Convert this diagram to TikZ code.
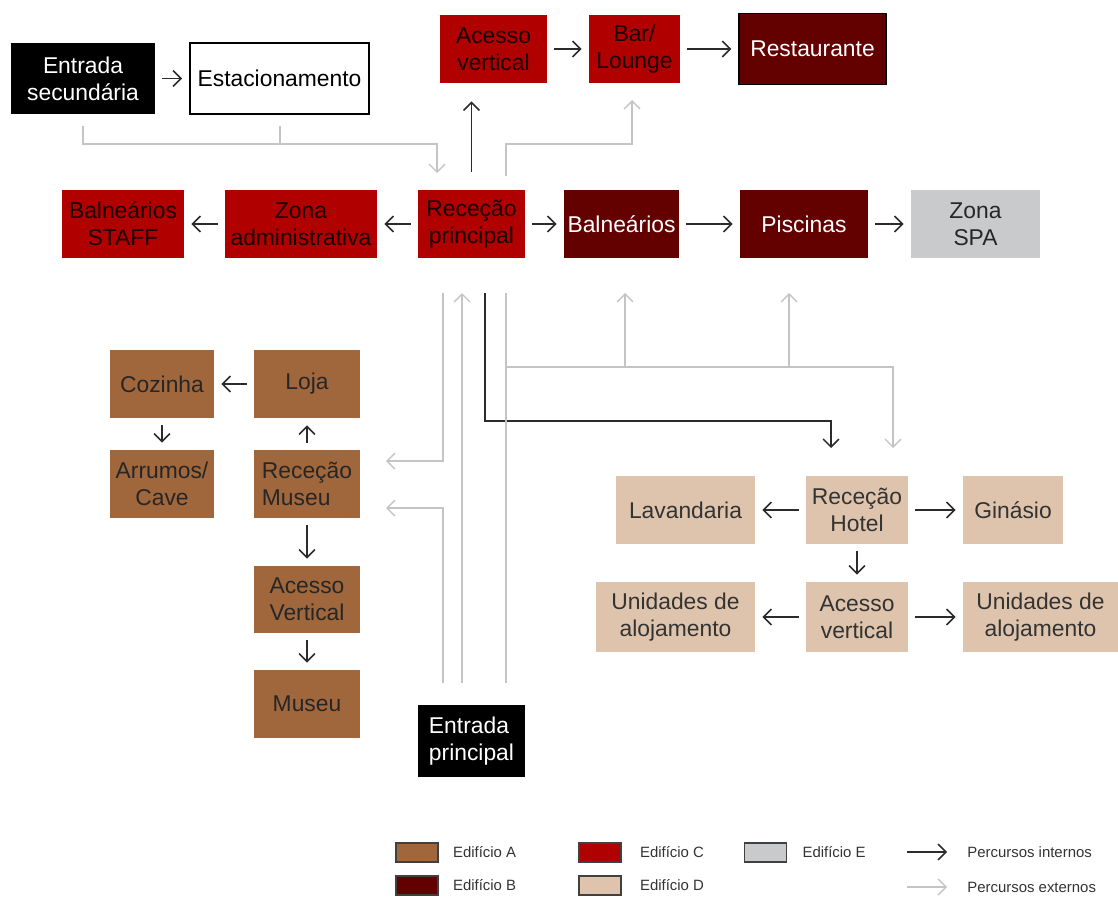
\documentclass[tikz,border=0pt]{standalone}
\usepackage{fontspec}
\setmainfont{Liberation Sans}
\usetikzlibrary{arrows.meta,positioning}

\definecolor{edA}{HTML}{A0673D}
\definecolor{edB}{HTML}{630000}
\definecolor{edC}{HTML}{B00000}
\definecolor{edD}{HTML}{DEC4AC}
\definecolor{edE}{HTML}{C9CACC}
\definecolor{intc}{HTML}{2B2B2B}
\definecolor{extc}{HTML}{C4C4C4}

\tikzset{
	box/.style={inner sep=0pt, align=center, font=\fontsize{13}{15.5}\selectfont},
	sz/.style 2 args={minimum width={#1*0.02cm}, minimum height={#2*0.02cm}},
	boxA/.style={box, fill=edA, text=black!85},
	boxB/.style={box, fill=edB, text=white},
	boxC/.style={box, fill=edC, text=black!90!red},
	boxD/.style={box, fill=edD, text=black!80},
	boxE/.style={box, fill=edE, text=black!85},
	boxK/.style={box, fill=black, text=white},
	boxW/.style={box, fill=white, draw=black, line width=1.1pt},
	int/.style={draw=intc, line width=0.9pt, -{Straight Barb[length=4.5pt,width=9pt]}},
	ext/.style={draw=extc, line width=0.8pt, -{Straight Barb[length=4.5pt,width=9pt]}},
	extl/.style={draw=extc, line width=0.8pt},
	gap/.style={shorten >=#1, shorten <=#1}, gap/.default=0.14cm,
	legbox/.style={draw=black!75, line width=0.8pt, sz={42}{19}},
	legtxt/.style={inner sep=0pt, text=black!80, font=\fontsize{8.5}{10}\selectfont},
}

\begin{document}
\begin{tikzpicture}[x=0.02cm, y=-0.02cm]
	\useasboundingbox (0,0) rectangle (1118,900);
	
	% topo
	\node[boxK, sz={144}{71}] (esec) at (83,78.5) {Entrada\\secundária};
	\node[boxW, sz={179}{71}] (estac) at (279.5,78.5) {Estacionamento};
	\node[boxC, sz={107}{68}] (acv) at (493.5,49) {Acesso\\vertical};
	\node[boxC, sz={91}{68}] (bar) at (634.5,49) {Bar/\\Lounge};
	\node[boxB, sz={147}{71}, draw=black, line width=0.8pt] (rest) at (812.5,49) {Restaurante};
	
	% linha da receção
	\node[boxC, sz={122}{68}] (bstaff) at (123,224) {Balneários\\STAFF};
	\node[boxC, sz={152}{68}] (zadm) at (301,224) {Zona\\administrativa};
	\node[boxC, sz={107}{68}] (recp) at (471.5,224) {Receção\\principal};
	\node[boxB, sz={115}{68}] (baln) at (621.5,224) {Balneários};
	\node[boxB, sz={128}{68}] (pisc) at (804,224) {Piscinas};
	\node[boxE, sz={129}{68}] (spa) at (975.5,224) {Zona\\SPA};
	
	% museu
	\node[boxA, sz={104}{68}] (coz) at (162,384) {Cozinha};
	\node[boxA, sz={106}{68}] (loja) at (307,384) {Loja};
	\node[boxA, sz={104}{68}] (arr) at (162,484) {Arrumos/\\Cave};
	\node[boxA, sz={106}{68}, align=left] (recm) at (307,484) {Receção\\Museu};
	\node[boxA, sz={106}{67}, align=left] (acvm) at (307,599.5) {Acesso\\Vertical};
	\node[boxA, sz={106}{68}] (museu) at (307,704) {Museu};
	\node[boxK, sz={107}{72}, align=left] (entp) at (471.5,741) {Entrada\\principal};
	
	% hotel
	\node[boxD, sz={139}{68}] (lav) at (685.5,510) {Lavandaria};
	\node[boxD, sz={102}{68}] (rech) at (857,510) {Receção\\Hotel};
	\node[boxD, sz={100}{68}] (gin) at (1013,510) {Ginásio};
	\node[boxD, sz={159}{70}] (ualL) at (675.5,617) {Unidades de\\alojamento};
	\node[boxD, sz={102}{70}] (acvh) at (857,617) {Acesso\\vertical};
	\node[boxD, sz={155}{70}] (ualR) at (1040.5,617) {Unidades de\\alojamento};
	
	% percursos internos
	\draw[int, gap] (esec) -- (estac);
	\draw[int, gap] (acv) -- (bar);
	\draw[int, gap] (bar) -- (rest);
	\draw[int, gap] (recp) -- (zadm);
	\draw[int, gap] (zadm) -- (bstaff);
	\draw[int, gap] (recp) -- (baln);
	\draw[int, gap] (baln) -- (pisc);
	\draw[int, gap] (pisc) -- (spa);
	\draw[int, gap=0.36cm] (recp.north) -- (recp.north |- acv.south);
	\draw[int, gap] (loja) -- (coz);
	\draw[int, gap] (coz) -- (arr);
	\draw[int, gap] (recm) -- (loja);
	\draw[int, gap] (recm) -- (acvm);
	\draw[int, gap] (acvm) -- (museu);
	\draw[int, gap] (rech) -- (lav);
	\draw[int, gap] (rech) -- (gin);
	\draw[int, gap] (rech) -- (acvh);
	\draw[int, gap] (acvh) -- (ualL);
	\draw[int, gap] (acvh) -- (ualR);
	
	\coordinate (K1) at (485,293);
	\coordinate (K2) at (831,421);
	\coordinate (K3) at (831,448); % ponta sobre a receção do hotel
	\draw[int] (K1) |- (K2) -- (K3);
	
	% percursos externos
	\coordinate (E1) at (83,126);
	\coordinate (E2) at (280,126);
	\coordinate (E3) at (437,144);
	\coordinate (E4) at (437,173);
	\draw[ext] (E1) |- (E3) -- (E4);
	\draw[extl] (E2) -- (E2 |- E3);
	
	\coordinate (F1) at (506,176);
	\coordinate (F2) at (632,144);
	\coordinate (F3) at (632,100);
	\draw[ext] (F1) |- (F2) -- (F3);
	
	\coordinate (G1) at (443,293);
	\coordinate (G2) at (386,461);
	\coordinate (G3) at (443,683);
	\coordinate (G4) at (386,508);
	\draw[ext] (G1) |- (G2);
	\draw[ext] (G3) |- (G4);
	
	\coordinate (H1) at (462,683);
	\coordinate (H2) at (462,293);
	\draw[ext] (H1) -- (H2);
	
	\coordinate (S1) at (506,683);
	\coordinate (S2) at (506,293);
	\coordinate (S3) at (506,367);
	\coordinate (S4) at (893,448);
	\draw[extl] (S1) -- (S2);
	\draw[ext] (S3) -| (S4);
	\draw[ext] (625,367) -- (625,293);
	\draw[ext] (789,367) -- (789,293);
	
	% legenda
	\node[legbox, fill=edA] (lA) at (417,852.5) {};
	\node[legbox, fill=edB] (lB) at (417,885.5) {};
	\node[legbox, fill=edC] (lC) at (600,852.5) {};
	\node[legbox, fill=edD] (lD) at (600,885.5) {};
	\node[legbox, fill=edE] (lE) at (765.5,852.5) {};
	\node[legtxt, right=0.28cm of lA] (tA) {Edifício A};
	\node[legtxt, right=0.28cm of lB] (tB) {Edifício B};
	\node[legtxt, right=0.36cm of lC] (tC) {Edifício C};
	\node[legtxt, right=0.36cm of lD] (tD) {Edifício D};
	\node[legtxt, right=0.3cm of lE] (tE) {Edifício E};
	\node[legtxt, anchor=west] (tint) at (967,852) {Percursos internos};
	\node[legtxt, anchor=west] (text) at (967,887) {Percursos externos};
	\coordinate (LI) at (907,852);
	\coordinate (LE) at (907,887);
	\draw[int] (LI) -- ([xshift=-0.4cm]tint.west);
	\draw[ext] (LE) -- ([xshift=-0.4cm]text.west);
	
\end{tikzpicture}
\end{document}
